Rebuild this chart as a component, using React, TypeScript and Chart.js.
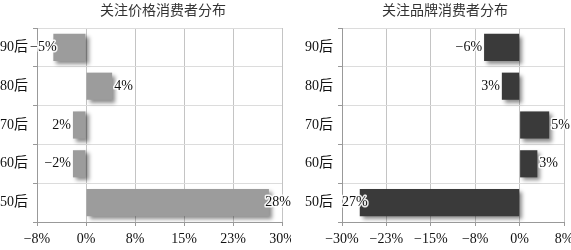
import React, { useEffect, useRef } from "react";
import { Chart, registerables } from "chart.js";

Chart.register(...registerables);

const categories = ["90后", "80后", "70后", "60后", "50后"];
const priceValues = [-5, 4, -2, -2, 28];
const brandValues = [-6, -3, 5, 3, -27];
const priceLabels = ["−5%", "4%", "2%", "−2%", "28%"];
const brandLabels = ["−6%", "3%", "5%", "3%", "27%"];
const priceTicks = ["−8%", "0%", "8%", "15%", "23%", "30%"];
const brandTicks = ["−30%", "−23%", "−15%", "−8%", "0%", "8%"];
const priceTitle = "关注价格消费者分布";
const brandTitle = "关注品牌消费者分布";

const FONT = "'Liberation Serif', 'Noto Sans CJK SC', serif";

type Cfg = {
  title: string;
  titleX: number;
  values: number[];
  labels: string[];
  ticks: string[];
  min: number;
  max: number;
  color: string;
  yWidth: number;
  padRight: number;
  minLabelLeft: number | null;
};

const shadowPlugin = {
  id: "barShadow",
  beforeDatasetsDraw(chart: any) {
    const ctx = chart.ctx;
    ctx.save();
    ctx.shadowColor = "rgba(0,0,0,0.45)";
    ctx.shadowBlur = 4;
    ctx.shadowOffsetX = 3;
    ctx.shadowOffsetY = 3;
  },
  afterDatasetsDraw(chart: any) {
    chart.ctx.restore();
  },
};

const labelPlugin = {
  id: "valueLabels",
  afterDraw(chart: any, _args: any, opts: any) {
    const ctx = chart.ctx;
    const meta = chart.getDatasetMeta(0);
    const data = chart.data.datasets[0].data as number[];
    const area = chart.chartArea;
    ctx.save();
    ctx.font = `14px ${FONT}`;
    ctx.textBaseline = "middle";
    ctx.lineJoin = "round";
    meta.data.forEach((el: any, i: number) => {
      const text = opts.labels[i];
      const w = ctx.measureText(text).width;
      let x: number;
      if (data[i] >= 0) {
        x = el.x + 2;
        if (x + w > chart.width) x = chart.width - w;
      } else {
        x = el.x - 2 - w;
        const minL = opts.minLeft == null ? area.left : opts.minLeft;
        if (x < minL) x = minL;
      }
      ctx.textAlign = "left";
      ctx.lineWidth = 3;
      ctx.strokeStyle = "rgba(255,255,255,0.9)";
      ctx.strokeText(text, x, el.y);
      ctx.fillStyle = "#111";
      ctx.fillText(text, x, el.y);
    });
    ctx.restore();
  },
};

const titlePlugin = {
  id: "titleAt",
  afterDraw(chart: any, _args: any, opts: any) {
    const ctx = chart.ctx;
    ctx.save();
    ctx.font = `14px ${FONT}`;
    ctx.fillStyle = "#333";
    ctx.textAlign = "center";
    ctx.textBaseline = "middle";
    ctx.fillText(opts.text, opts.x, 11);
    ctx.restore();
  },
};

function BarPanel({ cfg, left, width }: { cfg: Cfg; left: number; width: number }) {
  const ref = useRef<HTMLCanvasElement | null>(null);
  useEffect(() => {
    if (!ref.current) return;
    const chart = new Chart(ref.current, {
      type: "bar",
      data: {
        labels: categories,
        datasets: [
          {
            data: cfg.values,
            backgroundColor: cfg.color,
            borderWidth: 0,
            categoryPercentage: 1,
            barPercentage: 0.7,
          },
        ],
      },
      plugins: [shadowPlugin, labelPlugin, titlePlugin],
      options: {
        animation: false,
        responsive: false,
        maintainAspectRatio: false,
        indexAxis: "y",
        layout: { padding: { top: 28, right: cfg.padRight, left: 0, bottom: 0 } },
        plugins: {
          legend: { display: false },
          title: { display: false },
          tooltip: { enabled: false },
          valueLabels: { labels: cfg.labels, minLeft: cfg.minLabelLeft },
          titleAt: { text: cfg.title, x: cfg.titleX },
        } as any,
        scales: {
          x: {
            type: "linear",
            min: cfg.min,
            max: cfg.max,
            ticks: {
              stepSize: 7.5,
              autoSkip: false,
              maxRotation: 0,
              padding: 5,
              color: "#111",
              font: { family: FONT, size: 14 },
              callback: (_v: any, i: number) => cfg.ticks[i],
            },
            grid: { color: "#c4c4c4", tickColor: "#999", tickLength: 4, lineWidth: 1 },
            border: { color: "#999" },
            afterFit: (s: any) => {
              s.height = 28;
              s.paddingLeft = 0;
              s.paddingRight = 0;
            },
          },
          y: {
            type: "category",
            offset: true,
            ticks: {
              padding: 5,
              color: "#111",
              font: { family: FONT, size: 14 },
            },
            grid: { offset: true, color: "#dcdcdc", tickColor: "#999", tickLength: 4 },
            border: { color: "#999" },
            afterFit: (s: any) => {
              s.width = cfg.yWidth;
              s.paddingTop = 0;
              s.paddingBottom = 0;
            },
          },
        },
      } as any,
    });
    return () => chart.destroy();
  }, []);
  return (
    <canvas
      ref={ref}
      width={width}
      height={250}
      style={{ position: "absolute", left, top: 0, width, height: 250 }}
    />
  );
}

export default function App() {
  const priceCfg: Cfg = {
    title: priceTitle,
    titleX: 163,
    values: priceValues,
    labels: priceLabels,
    ticks: priceTicks,
    min: -7.5,
    max: 30,
    color: "#9c9c9c",
    yWidth: 37,
    padRight: 9,
    minLabelLeft: 30,
  };
  const brandCfg: Cfg = {
    title: brandTitle,
    titleX: 154,
    values: brandValues,
    labels: brandLabels,
    ticks: brandTicks,
    min: -30,
    max: 7.5,
    color: "#3a3a3a",
    yWidth: 51,
    padRight: 7,
    minLabelLeft: null,
  };
  return (
    <div style={{ position: "fixed", left: 0, top: 0, width: 571, height: 250, background: "#fff" }}>
      <BarPanel cfg={priceCfg} left={0} width={291} />
      <BarPanel cfg={brandCfg} left={291} width={280} />
    </div>
  );
}
